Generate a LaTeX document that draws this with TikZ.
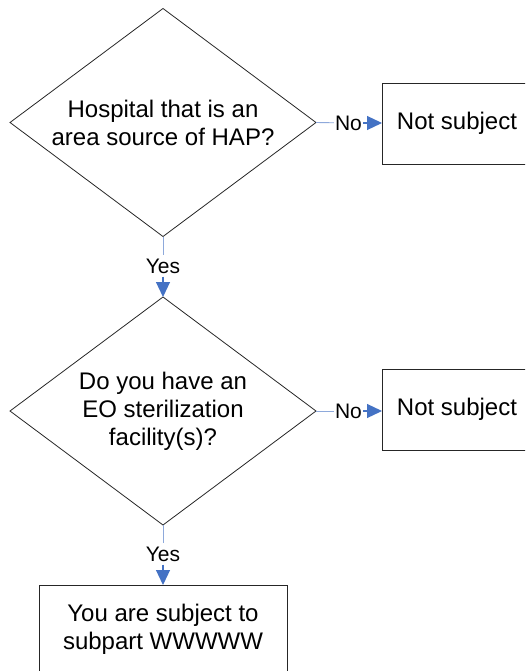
\documentclass[tikz,border=0pt]{standalone}
\usepackage{fontspec}
\setmainfont{Liberation Sans}
\usetikzlibrary{shapes.geometric,arrows.meta}
\definecolor{linkblue}{HTML}{8EA9DB}
\definecolor{tipblue}{HTML}{4472C4}
\begin{document}
\begin{tikzpicture}[x=1pt,y=-1pt,
question/.style={diamond,draw=black!85,line width=0.8pt,inner xsep=-40pt,inner ysep=-10pt,outer sep=0pt,
  minimum width=306pt,minimum height=228pt,align=center,font=\fontsize{24}{28}\selectfont},
outcome/.style={rectangle,draw=black!85,line width=0.8pt,outer sep=0pt,align=center,
  font=\fontsize{24}{28}\selectfont},
answer/.style={inner xsep=1pt,inner ysep=3pt,font=\fontsize{21}{24}\selectfont},
link/.style={draw=linkblue,line width=0.9pt},
arrow/.style={draw=tipblue,line width=1.2pt,-{Triangle[length=15pt,width=14pt]}}]
\clip (0,0) rectangle (525,671);
\node[question] (hap) at (163,122.5) {Hospital that is an\\area source of HAP?};
\node[question] (eo) at (163,411) {Do you have an\\EO sterilization\\facility(s)?};
\node[outcome,minimum width=150pt,minimum height=81pt] (notsub1) at (457,123.5) {Not subject};
\node[outcome,minimum width=150pt,minimum height=81pt] (notsub2) at (457,409.5) {Not subject};
\node[outcome,minimum width=248pt,minimum height=88pt] (wwwww) at (163,629) {You are subject to\\subpart WWWWW};
\node[answer] (no1) at (348.5,123) {No};
\node[answer] (no2) at (348.5,411) {No};
\node[answer] (yes1) at (163,266) {Yes};
\node[answer] (yes2) at (163,554) {Yes};
\draw[link] (hap.east) -- (no1);
\draw[arrow] (no1) -- (no1 -| notsub1.west);
\draw[link] (eo.east) -- (no2);
\draw[arrow] (no2) -- (no2 -| notsub2.west);
\draw[link] (hap.south) -- (yes1);
\draw[arrow] (yes1) -- (eo.north);
\draw[link] (eo.south) -- (yes2);
\draw[arrow] (yes2) -- (wwwww.north);
\end{tikzpicture}
\end{document}
